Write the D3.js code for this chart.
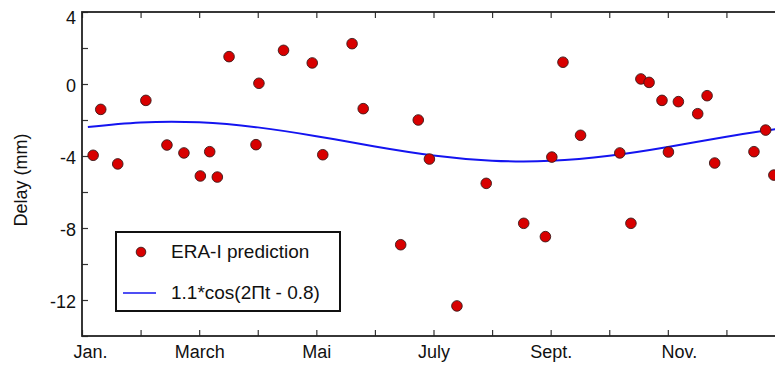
<!DOCTYPE html>
<html>
<head>
<meta charset="utf-8">
<script src="https://cdnjs.cloudflare.com/ajax/libs/d3/7.8.5/d3.min.js"></script>
<style>
  body { margin: 0; background: #fff; }
  svg { display: block; font-family: "Liberation Sans", Arial, Helvetica, sans-serif; }
  .axis text { font-size: 18px; fill: #111; }
  .axis line { stroke: #333; stroke-width: 1.2; }
</style>
</head>
<body>
<script>
// observations: month of year (0 = 1 Jan, 12 = next 1 Jan) and delay in mm
var obsMonth = [0.19, 0.32, 0.61, 1.09, 1.45, 1.74, 2.02, 2.18, 2.31, 2.51,
                2.97, 3.02, 3.44, 3.93, 4.11, 4.61, 4.80, 5.44, 5.74, 5.93,
                6.40, 6.90, 7.54, 7.91, 8.02, 8.21, 8.51, 9.18, 9.37, 9.54,
                9.68, 9.90, 10.01, 10.18, 10.51, 10.67, 10.80, 11.47, 11.67, 11.81];
var obsDelay = [-3.96, -1.41, -4.44, -0.91, -3.39, -3.83, -5.11, -3.76, -5.17, 1.52,
                -3.37, 0.04, 1.87, 1.17, -3.93, 2.24, -1.37, -8.93, -2.00, -4.17,
                -12.33, -5.52, -7.74, -8.48, -4.06, 1.21, -2.85, -3.83, -7.74, 0.28,
                0.09, -0.91, -3.78, -0.98, -1.65, -0.65, -4.39, -3.76, -2.56, -5.06];

// fitted seasonal curve at monthly steps
var curveMonth = [0.1, 1, 2, 3, 4, 5, 6, 7, 8, 9, 10, 11, 12];
var curveDelay = [-2.39, -2.14, -2.13, -2.41, -2.90, -3.47, -3.97, -4.26, -4.27, -3.99, -3.50, -2.93, -2.43];

// axis labels
var monthLabels = {0: "Jan.", 2: "March", 4: "Mai", 6: "July", 8: "Sept.", 10: "Nov."};
var delayTicks = [4, 2, 0, -2, -4, -6, -8, -10, -12, -14];
var delayLabels = [4, 0, -4, -8, -12];

var legendLabels = ["ERA-I prediction", "1.1*cos(2\u03A0t - 0.8)"];

var width = 775, height = 365;
var plotLeft = 82, plotTop = 12, plotRight = 785, plotBottom = 336;

var svg = d3.select("body").append("svg")
    .attr("width", width)
    .attr("height", height);

var x = d3.scaleLinear().domain([0, 12]).range([plotLeft, plotRight]);
var y = d3.scaleLinear().domain([-14, 4]).range([plotBottom, plotTop]);

//left axis, ticks pointing inwards
var yAxis = svg.append("g")
    .attr("class", "axis")
    .attr("transform", "translate(" + plotLeft + ",0)")
    .call(d3.axisLeft(y)
        .tickValues(delayTicks)
        .tickSize(-6)
        .tickPadding(6)
        .tickFormat(function(d){ return delayLabels.indexOf(d) >= 0 ? d : ""; }));
yAxis.select(".domain").remove();
yAxis.selectAll("text").attr("dy", function(d){ return d == 4 ? "0.62em" : "0.44em"; });

//bottom axis
var xAxis = svg.append("g")
    .attr("class", "axis")
    .attr("transform", "translate(0," + plotBottom + ")")
    .call(d3.axisBottom(x)
        .tickValues(d3.range(0, 13))
        .tickSize(-6)
        .tickPadding(9)
        .tickFormat(function(d){ return monthLabels[d] || ""; }));
xAxis.select(".domain").remove();
xAxis.selectAll("text").attr("dx", function(d){ return d == 0 ? 8 : d == 10 ? 11 : 0; });

//top axis, ticks only
var topAxis = svg.append("g")
    .attr("class", "axis")
    .attr("transform", "translate(0," + plotTop + ")")
    .call(d3.axisTop(x).tickValues(d3.range(0, 13)).tickSize(-6).tickFormat(""));
topAxis.select(".domain").remove();

//plot frame
svg.append("rect")
    .attr("x", plotLeft)
    .attr("y", plotTop)
    .attr("width", plotRight - plotLeft)
    .attr("height", plotBottom - plotTop)
    .attr("fill", "none")
    .attr("stroke", "#222")
    .attr("stroke-width", 1.8);

//y title
svg.append("text")
    .attr("transform", "translate(27," + ((plotTop + plotBottom) / 2 + 6) + ") rotate(-90)")
    .attr("text-anchor", "middle")
    .style("font-size", "18px")
    .attr("fill", "#111")
    .text("Delay (mm)");

//seasonal curve
var line = d3.line()
    .x(function(d){ return x(d[0]); })
    .y(function(d){ return y(d[1]); })
    .curve(d3.curveNatural);

svg.append("path")
    .datum(d3.zip(curveMonth, curveDelay))
    .attr("d", line)
    .attr("fill", "none")
    .attr("stroke", "#1414f0")
    .attr("stroke-width", 2);

//observation points
svg.selectAll(".obs")
    .data(d3.zip(obsMonth, obsDelay))
    .enter()
    .append("circle")
    .attr("class", "obs")
    .attr("cx", function(d){ return x(d[0]); })
    .attr("cy", function(d){ return y(d[1]); })
    .attr("r", 5.3)
    .attr("fill", "#d80000")
    .attr("stroke", "#3a1a1a")
    .attr("stroke-width", 0.9);

//legend
var legend = svg.append("g").attr("transform", "translate(116,232)");
legend.append("rect")
    .attr("width", 224)
    .attr("height", 79)
    .attr("fill", "#fff")
    .attr("stroke", "#111")
    .attr("stroke-width", 2);
legend.append("circle")
    .attr("cx", 25)
    .attr("cy", 20)
    .attr("r", 4.8)
    .attr("fill", "#d80000")
    .attr("stroke", "#3a1a1a")
    .attr("stroke-width", 0.9);
legend.append("line")
    .attr("x1", 7).attr("x2", 40)
    .attr("y1", 61).attr("y2", 61)
    .attr("stroke", "#1414f0")
    .attr("stroke-width", 1.6);
legend.selectAll(".ltext")
    .data(legendLabels)
    .enter()
    .append("text")
    .attr("class", "ltext")
    .attr("x", 55)
    .attr("y", function(d, i){ return 26 + i * 41; })
    .style("font-size", "19px")
    .attr("fill", "#111")
    .text(function(d){ return d; });
</script>
</body>
</html>
